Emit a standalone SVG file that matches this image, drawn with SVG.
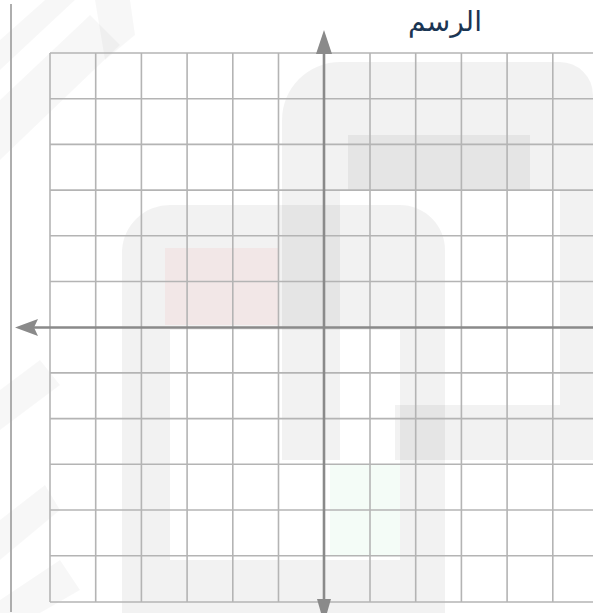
<svg xmlns="http://www.w3.org/2000/svg" width="593" height="613" viewBox="0 0 593 613">
  <defs>
    <style>
      .grid line { stroke: #b4b4b4; stroke-width: 1.6; }
      .axis { stroke: #8a8a8a; stroke-width: 2.6; fill: none; }
      .head { fill: #8a8a8a; }
      .wm { fill: #000; fill-opacity: 0.05; }
      .wm2 { fill: #000; fill-opacity: 0.03; }
      .title { font-family: "DejaVu Sans", "Noto Sans", sans-serif; font-size: 28px; fill: #1b3553; }
    </style>
  </defs>
  <rect width="593" height="613" fill="#ffffff"/>

  <g id="watermark">
    <path class="wm" d="M170,205 H400 A45,45 0 0 1 445,250 V613 H122 V250 A48,48 0 0 1 170,205 Z M170,330 V560 H400 V330 Z" fill-rule="evenodd"/>
    <path class="wm" d="M340,62 H560 A33,33 0 0 1 593,95 V460 H395 V405 H560 V190 H340 V460 H282 V120 A58,58 0 0 1 340,62 Z"/>
    <rect x="348" y="135" width="182" height="55" class="wm"/>
    <rect x="165" y="248" width="113" height="77" fill="#ff3030" fill-opacity="0.05"/>
    <rect x="330" y="465" width="70" height="90" fill="#30c060" fill-opacity="0.05"/>
    <path class="wm2" d="M0,40 L45,0 L75,0 L0,70 Z"/>
    <path class="wm2" d="M0,100 L90,15 L120,45 L0,160 Z"/>
    <path class="wm2" d="M95,0 L130,0 L135,35 L105,60 Z"/>
    <path class="wm2" d="M0,390 L40,360 L60,385 L0,430 Z"/>
    <path class="wm2" d="M0,520 L45,485 L60,510 L0,560 Z"/>
    <path class="wm2" d="M0,600 L60,560 L80,590 L40,613 L0,613 Z"/>
  </g>

  <line x1="11" y1="4" x2="11" y2="612" stroke="#9a9a9a" stroke-width="1.6"/>

  <g id="grid" class="grid">
    <line x1="50" y1="53" x2="50" y2="602"/>
    <line x1="95.7" y1="53" x2="95.7" y2="602"/>
    <line x1="141.4" y1="53" x2="141.4" y2="602"/>
    <line x1="187.1" y1="53" x2="187.1" y2="602"/>
    <line x1="232.8" y1="53" x2="232.8" y2="602"/>
    <line x1="278.5" y1="53" x2="278.5" y2="602"/>
    <line x1="370" y1="53" x2="370" y2="602"/>
    <line x1="415.7" y1="53" x2="415.7" y2="602"/>
    <line x1="461.4" y1="53" x2="461.4" y2="602"/>
    <line x1="507.1" y1="53" x2="507.1" y2="602"/>
    <line x1="552.8" y1="53" x2="552.8" y2="602"/>
    <line x1="50" y1="53" x2="593" y2="53"/>
    <line x1="50" y1="98.7" x2="593" y2="98.7"/>
    <line x1="50" y1="144.4" x2="593" y2="144.4"/>
    <line x1="50" y1="190.1" x2="593" y2="190.1"/>
    <line x1="50" y1="235.8" x2="593" y2="235.8"/>
    <line x1="50" y1="281.5" x2="593" y2="281.5"/>
    <line x1="50" y1="372.9" x2="593" y2="372.9"/>
    <line x1="50" y1="418.6" x2="593" y2="418.6"/>
    <line x1="50" y1="464.3" x2="593" y2="464.3"/>
    <line x1="50" y1="510" x2="593" y2="510"/>
    <line x1="50" y1="555.7" x2="593" y2="555.7"/>
    <line x1="50" y1="602" x2="593" y2="602"/>
  </g>

  <g id="axes">
    <line class="axis" x1="593" y1="327.5" x2="32" y2="327.5"/>
    <path class="head" d="M15,327.5 L38,319 L34,327.5 L38,336 Z"/>
    <line class="axis" x1="324" y1="600" x2="324" y2="48"/>
    <path class="head" d="M324,30 L332,54 L316,54 Z"/>
    <path class="head" d="M317,599 L331,599 L327,613 L321,613 Z"/>
  </g>

  <text class="title" x="445" y="31" text-anchor="middle" direction="rtl">الرسم</text>
</svg>
